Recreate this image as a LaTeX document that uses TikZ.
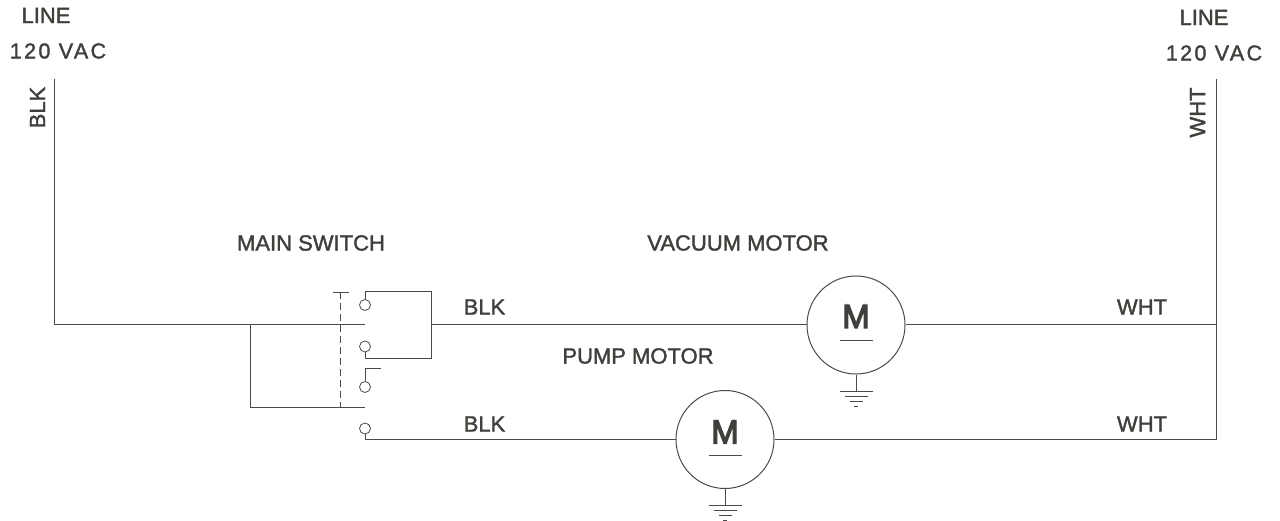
\documentclass[tikz,border=0pt]{standalone}
\usepackage{fontspec}
\setmainfont[FakeBold=1.6]{Liberation Sans}
\definecolor{inkgray}{HTML}{4A4A46}
\begin{document}
\begin{tikzpicture}[x=1pt, y=-1pt]
    % Define node styles
    \tikzstyle{wire}=[draw=inkgray, line width=1pt]
    \tikzstyle{lbl}=[text=inkgray!85!black, inner sep=0pt, font=\fontsize{22}{24}\selectfont]
    \tikzstyle{spaced}=[lbl, font=\fontsize{21.5}{24}\selectfont\addfontfeature{LetterSpace=11}]
    \tikzstyle{contact}=[circle, draw=inkgray, line width=0.8pt, fill=white, inner sep=0pt, minimum size=11pt]
    \tikzstyle{motor}=[circle, draw=inkgray, line width=1pt, fill=white, inner sep=0pt, minimum size=98pt]
    \tikzstyle{mlabel}=[text=inkgray!85!black, inner sep=0pt, font=\fontsize{33}{36}\selectfont\addfontfeature{FakeBold=4}]

    \useasboundingbox (0, 0) rectangle (1280, 521);

    % Supply labels
    \node[lbl] (lineL) at (46, 15.5) {LINE};
    \node[spaced] (vacL) at (58, 51) {120 VAC};
    \node[lbl, rotate=90] (blkL) at (37.5, 107.5) {BLK};
    \node[lbl] (lineR) at (1204, 17.5) {LINE};
    \node[spaced] (vacR) at (1214, 53) {120 VAC};
    \node[lbl, rotate=90] (whtR) at (1197.5, 112.5) {WHT};

    % Component labels
    \node[lbl] (swlabel) at (311, 243) {MAIN SWITCH};
    \node[lbl] (vaclabel) at (738, 243) {VACUUM MOTOR};
    \node[lbl] (pumplabel) at (638, 356) {PUMP MOTOR};
    \node[lbl] (blk1) at (484.5, 307) {BLK};
    \node[lbl] (blk2) at (484.5, 424) {BLK};
    \node[lbl] (wht1) at (1142, 307) {WHT};
    \node[lbl] (wht2) at (1142, 424) {WHT};

    % Wire junctions
    \coordinate (topL) at (54, 79);
    \coordinate (cornerL) at (54, 325);
    \coordinate (tap) at (250.7, 325);
    \coordinate (pole1) at (365, 325);
    \coordinate (tapB) at (250.7, 407);
    \coordinate (pole2) at (365, 407);
    \coordinate (topR) at (1216.7, 79);
    \coordinate (joinR) at (1216.7, 325);
    \coordinate (cornerR) at (1216.7, 439.5);
    \coordinate (jump) at (431, 325);
    \coordinate (jumpT) at (431, 292);
    \coordinate (jumpB) at (431, 358);

    % Switch contacts
    \node[contact] (c1) at (365, 305) {};
    \node[contact] (c2) at (365, 346.5) {};
    \node[contact] (c3) at (365, 387) {};
    \node[contact] (c4) at (365, 428.5) {};

    % Motors
    \node[motor] (m1) at (856, 325) {};
    \node[motor] (m2) at (725, 439.5) {};
    \node[mlabel] (mtext1) at (856, 316.5) {M};
    \node[mlabel] (mtext2) at (725, 432) {M};

    % Supply wires
    \draw[wire] (topL) -- (cornerL) -- (pole1);
    \draw[wire] (tap) -- (tapB) -- (pole2);
    \draw[wire] (topR) -- (cornerR) -- (m2.east);
    \draw[wire] (joinR) -- (m1.east);

    % Switch linkage
    \coordinate (linkT) at (340.7, 292);
    \coordinate (linkB) at (340.7, 407);
    \draw[wire, line width=0.8pt, dash pattern=on 7pt off 4pt] (linkT) -- (linkB);
    \draw[wire, line width=0.8pt] ([xshift=-8]linkT) -- ([xshift=8]linkT);

    % Contact wiring
    \draw[wire] (c1.north) |- (jumpT) -- (jumpB) -| (c2.south);
    \draw[wire] (jump) -- (m1.west);
    \draw[wire] (c3.north) |- ++(16, -13);
    \draw[wire] (c4.south) |- (m2.west);

    % Motor underbars
    \draw[wire] ([yshift=-16]m1.center) ++(-16.5, 0) -- ++(33, 0);
    \draw[wire] ([yshift=-16]m2.center) ++(-16.5, 0) -- ++(33, 0);

    % Ground symbols
    \draw[wire] (m1.south) -- ++(0, 16.5) coordinate (g1);
    \draw[wire] ([xshift=-16.5]g1) -- ([xshift=16.5]g1);
    \draw[wire] ([xshift=-11.5, yshift=-5]g1) -- ([xshift=11.5, yshift=-5]g1);
    \draw[wire] ([xshift=-6.5, yshift=-10]g1) -- ([xshift=6.5, yshift=-10]g1);
    \draw[wire] ([xshift=-2, yshift=-15]g1) -- ([xshift=2, yshift=-15]g1);

    \draw[wire] (m2.south) -- ++(0, 16.5) coordinate (g2);
    \draw[wire] ([xshift=-16.5]g2) -- ([xshift=16.5]g2);
    \draw[wire] ([xshift=-11.5, yshift=-5]g2) -- ([xshift=11.5, yshift=-5]g2);
    \draw[wire] ([xshift=-6.5, yshift=-10]g2) -- ([xshift=6.5, yshift=-10]g2);
    \draw[wire] ([xshift=-2, yshift=-15]g2) -- ([xshift=2, yshift=-15]g2);
\end{tikzpicture}
\end{document}
